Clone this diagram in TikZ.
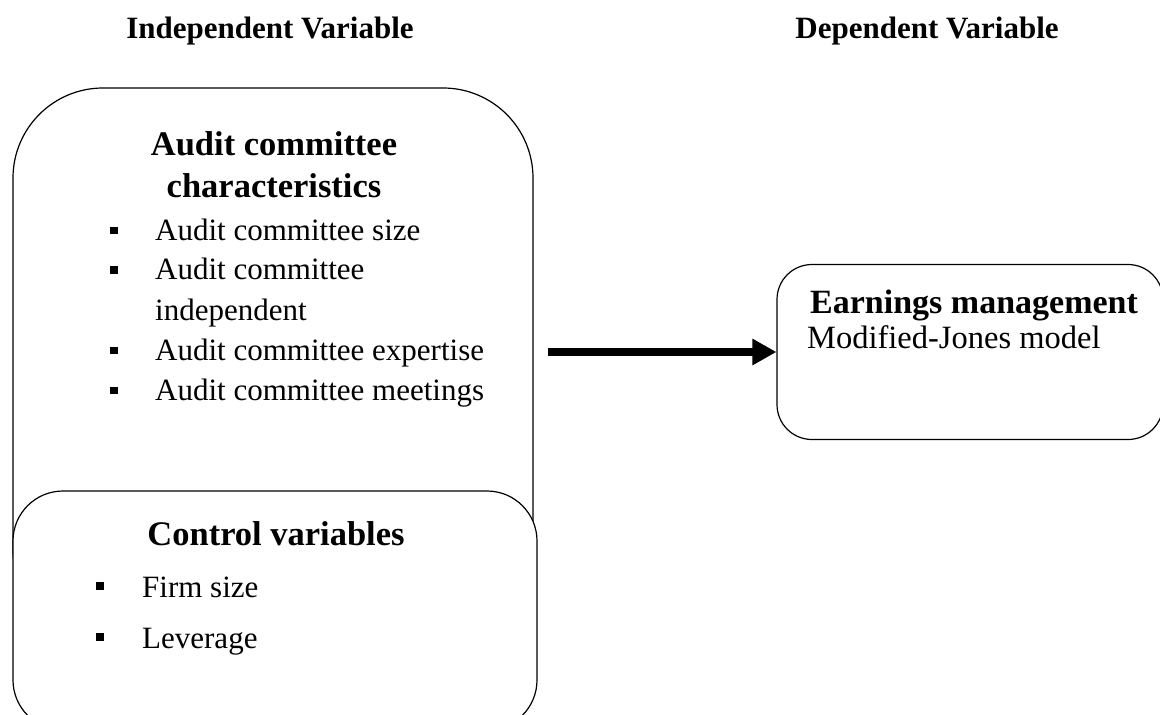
\documentclass[tikz,border=0pt]{standalone}
\usepackage{fontspec}
\setmainfont{Liberation Serif}
\usetikzlibrary{arrows.meta}
\tikzset{
  frame/.style={draw=black, line width=1.2pt, fill=white, inner sep=0pt},
  head/.style={font=\fontsize{31}{36}\selectfont\bfseries, anchor=base, inner sep=0pt},
  title/.style={font=\fontsize{34.5}{40}\selectfont\bfseries, anchor=base, inner sep=0pt},
  item/.style={font=\fontsize{31}{36}\selectfont, anchor=base west, inner sep=0pt},
  bul/.style={fill=black, draw=none, minimum width=7.5pt, minimum height=7.5pt, inner sep=0pt},
  flow/.style={line width=8pt, -{Triangle[length=24pt,width=25pt]}}
}
\begin{document}
\begin{tikzpicture}[x=1pt,y=-1pt]
\useasboundingbox (0,0) rectangle (1160,715);
% headers
\node[head] (hi) at (270,38) {Independent Variable};
\node[head] (hd) at (927,38) {Dependent Variable};
% big box
\node[frame, rounded corners=90pt, minimum width=520pt, minimum height=552pt] (ac) at (273,364) {};
\node[title] (act1) at (274,155) {Audit committee};
\node[title] (act2) at (274,197) {characteristics};
\node[bul] (b1) at (114,230.5) {};
\node[item] (i1) at (155,240) {Audit committee size};
\node[bul] (b2) at (114,270) {};
\node[item] (i2) at (155,279.5) {Audit committee};
\node[item] (i2b) at (155,320) {independent};
\node[bul] (b3) at (114,350.5) {};
\node[item] (i3) at (155,360) {Audit committee expertise};
\node[bul] (b4) at (114,390.5) {};
\node[item] (i4) at (155,400) {Audit committee meetings};
% control box
\node[frame, rounded corners=50pt, minimum width=524pt, minimum height=239pt] (cv) at (275,610.5) {};
\node[title] (cvt) at (276,545) {Control variables};
\node[bul] (b5) at (100,586) {};
\node[item] (c1) at (142,597) {Firm size};
\node[bul] (b6) at (100,637) {};
\node[item] (c2) at (142,648) {Leverage};
% earnings box
\node[frame, rounded corners=35pt, minimum width=386pt, minimum height=175pt] (em) at (970,352) {};
\node[title, anchor=base west, font=\fontsize{34}{40}\selectfont\bfseries] (emt) at (810,313) {Earnings management};
\node[item, font=\fontsize{32.5}{38}\selectfont] (emm) at (807,348) {Modified-Jones model};
% arrow
\coordinate (as) at (548,352);
\draw[flow] (as) -- (em.west);
\end{tikzpicture}
\end{document}
